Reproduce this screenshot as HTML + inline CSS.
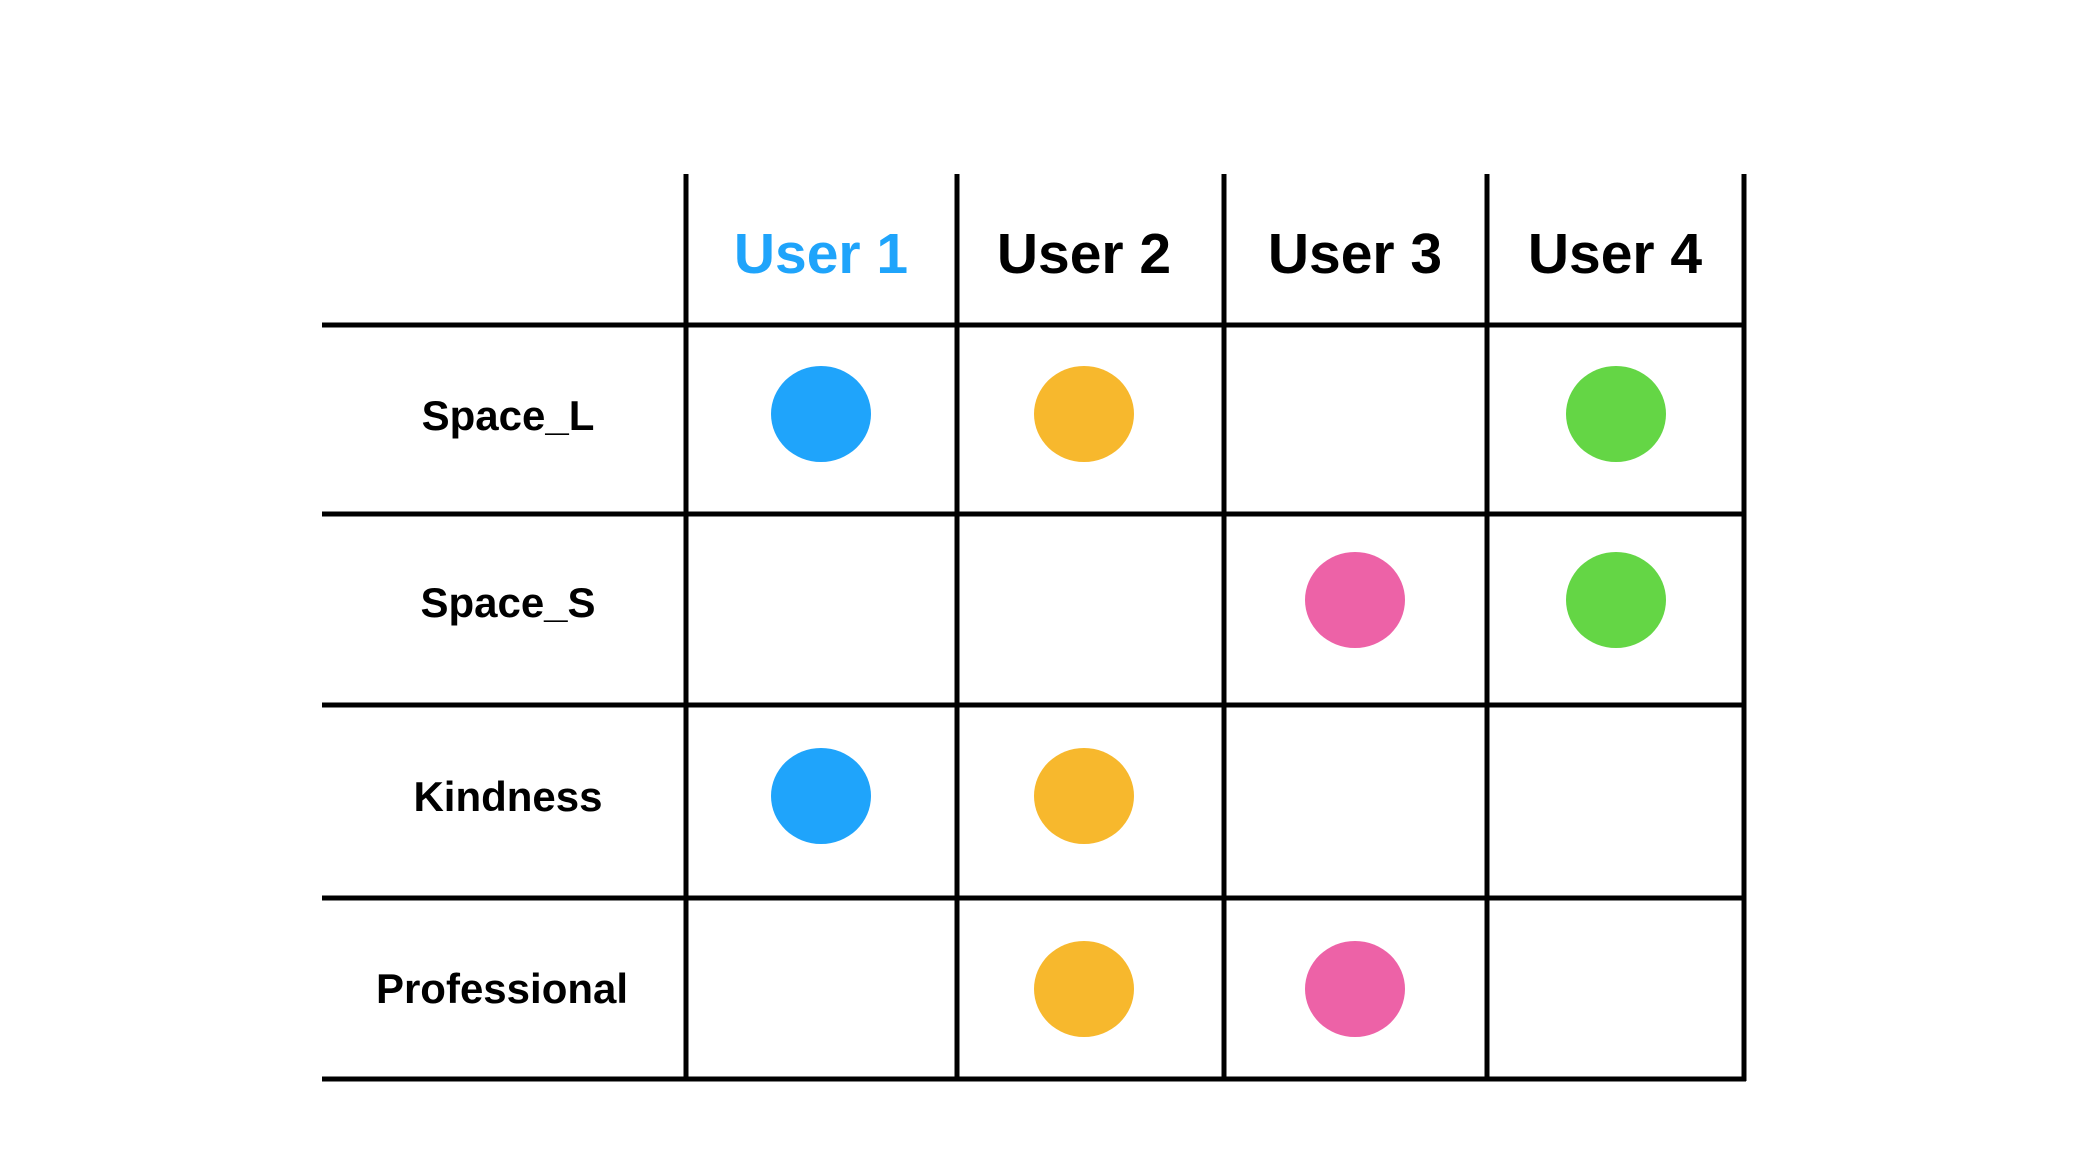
<!DOCTYPE html>
<html><head><meta charset="utf-8"><style>
html,body{margin:0;padding:0;background:#fff}
svg{display:block}
text{font-family:"Liberation Sans",sans-serif;font-weight:bold}
</style></head><body>
<svg width="2080" height="1168" viewBox="0 0 2080 1168" xmlns="http://www.w3.org/2000/svg">
<g stroke="#000" stroke-width="5">
<line x1="686" y1="174" x2="686" y2="1081"/>
<line x1="957" y1="174" x2="957" y2="1081"/>
<line x1="1224" y1="174" x2="1224" y2="1081"/>
<line x1="1487" y1="174" x2="1487" y2="1081"/>
<line x1="1744" y1="174" x2="1744" y2="1081"/>
<line x1="322" y1="325" x2="1746" y2="325"/>
<line x1="322" y1="514" x2="1746" y2="514"/>
<line x1="322" y1="705" x2="1746" y2="705"/>
<line x1="322" y1="898" x2="1746" y2="898"/>
<line x1="322" y1="1079" x2="1746" y2="1079"/>
</g>
<g font-size="57" text-anchor="middle">
<text x="821" y="273" fill="#1fa4fb">User 1</text>
<text x="1084" y="273">User 2</text>
<text x="1355" y="273">User 3</text>
<text x="1615" y="273">User 4</text>
</g>
<g font-size="42" text-anchor="middle">
<text x="508" y="430">Space_L</text>
<text x="508" y="617">Space_S</text>
<text x="508" y="811">Kindness</text>
<text x="502" y="1003">Professional</text>
</g>
<g>
<ellipse cx="821" cy="414" rx="50" ry="48" fill="#1fa4fb"/>
<ellipse cx="1084" cy="414" rx="50" ry="48" fill="#f7b82d"/>
<ellipse cx="1616" cy="414" rx="50" ry="48" fill="#64d645"/>
<ellipse cx="1355" cy="600" rx="50" ry="48" fill="#ed62a7"/>
<ellipse cx="1616" cy="600" rx="50" ry="48" fill="#64d645"/>
<ellipse cx="821" cy="796" rx="50" ry="48" fill="#1fa4fb"/>
<ellipse cx="1084" cy="796" rx="50" ry="48" fill="#f7b82d"/>
<ellipse cx="1084" cy="989" rx="50" ry="48" fill="#f7b82d"/>
<ellipse cx="1355" cy="989" rx="50" ry="48" fill="#ed62a7"/>
</g>
</svg>
</body></html>
